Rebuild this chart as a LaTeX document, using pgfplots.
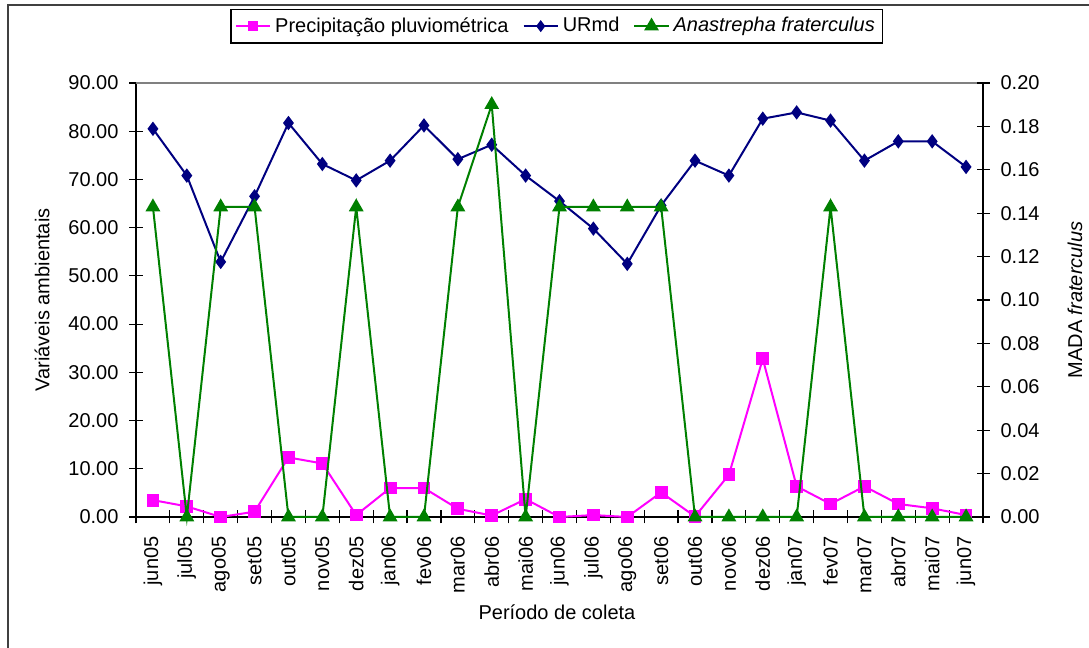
\documentclass[border=0pt]{standalone}
\usepackage{fontspec}
\setmainfont{Liberation Sans}
\usepackage{pgfplots}
\pgfplotsset{compat=1.18}
\definecolor{prec}{RGB}{255,0,255}
\definecolor{urmd}{RGB}{0,0,128}
\definecolor{anas}{RGB}{0,128,0}
\begin{document}
\fontsize{10pt}{12pt}\selectfont
\begin{tikzpicture}
\useasboundingbox (0,0) rectangle (544.5pt,324pt);
\draw[line width=1.2pt, black!75] (4pt,-2pt) -- (4pt,321.5pt) -- (548pt,321.5pt);
\pgfplotsset{
 common/.style={
  at={(68pt,65.5pt)}, anchor=south west,
  width=423.5pt, height=217pt, scale only axis,
  xmin=-0.5, xmax=24.5,
  clip=false,
  tick align=center, major tick length=6.5pt,
  tick style={black, line width=0.6pt},
  axis line style={black, line width=0.8pt, -},
  every tick label/.append style={font=\fontsize{10pt}{12pt}\selectfont},
  label style={font=\fontsize{10pt}{12pt}\selectfont},
  /pgf/number format/assume math mode=true,
  yticklabel style={/pgf/number format/.cd, fixed, fixed zerofill, precision=2},
  yticklabel shift=2pt,
 }
}
\begin{axis}[common,
  axis x line*=bottom, axis y line*=left,
  ymin=0, ymax=90, ytick={0,10,20,30,40,50,60,70,80,90},
  xtick={-0.5,0.5,1.5,2.5,3.5,4.5,5.5,6.5,7.5,8.5,9.5,10.5,11.5,12.5,13.5,14.5,15.5,16.5,17.5,18.5,19.5,20.5,21.5,22.5,23.5,24.5},
  x tick label as interval,
  xticklabels={jun05,jul05,ago05,set05,out05,nov05,dez05,jan06,fev06,mar06,abr06,mai06,jun06,jul06,ago06,set06,out06,nov06,dez06,jan07,fev07,mar07,abr07,mai07,jun07},
  xticklabel style={rotate=90, anchor=east},
  xticklabel shift=3pt,
  xlabel={Período de coleta},
  xlabel style={at={(axis description cs:0.497,-0.219)}, anchor=center},
  ylabel={Variáveis ambientais},
  ylabel style={at={(axis description cs:-0.111,0.5)}, anchor=center},
]
\draw[gray, line width=0.8pt] (rel axis cs:0,1) -- (rel axis cs:1,1);
\addplot[prec, line width=1pt, mark=square*, mark size=2.7pt] coordinates {
(0,3.5) (1,2.2) (2,0) (3,1.1) (4,12.35) (5,11.1) (6,0.4) (7,6.0) (8,6.0) (9,1.7) (10,0.3) (11,3.7) (12,0) (13,0.4) (14,0) (15,5.1) (16,0.1) (17,8.75) (18,32.8) (19,6.35) (20,2.7) (21,6.35) (22,2.7) (23,1.8) (24,0.4)};
\addplot[urmd, line width=1pt, mark=diamond*, mark size=2.8pt] coordinates {
(0,80.5) (1,70.8) (2,52.9) (3,66.5) (4,81.7) (5,73.2) (6,69.8) (7,73.9) (8,81.2) (9,74.2) (10,77.2) (11,70.8) (12,65.5) (13,59.8) (14,52.5) (15,64.6) (16,73.9) (17,70.8) (18,82.6) (19,83.9) (20,82.2) (21,73.9) (22,77.9) (23,77.9) (24,72.6)};
\end{axis}
\begin{axis}[common,
  axis y line*=right, axis x line=none,
  ymin=0, ymax=0.2, ytick={0,0.02,0.04,0.06,0.08,0.1,0.12,0.14,0.16,0.18,0.2},
  ylabel={MADA \textit{fraterculus}},
  ylabel style={at={(axis description cs:1.1086,0.5)}, anchor=center},
  legend columns=3,
  legend style={at={(0.497,1.131)}, anchor=center, draw=black, line width=0.6pt,
    font=\fontsize{10pt}{12pt}\selectfont, inner sep=2pt,
    /tikz/every even column/.append style={column sep=5pt}},
]
\addlegendimage{prec, line width=1pt, mark=square*, mark size=2pt}
\addlegendentry{Precipitação pluviométrica}
\addlegendimage{urmd, line width=1pt, mark=diamond*, mark size=2.2pt}
\addlegendentry{URmd}
\addplot[anas, line width=1pt, mark=triangle*, mark size=3.3pt] coordinates {
(0,0.142857) (1,0) (2,0.142857) (3,0.142857) (4,0) (5,0) (6,0.142857) (7,0) (8,0) (9,0.142857) (10,0.19) (11,0) (12,0.142857) (13,0.142857) (14,0.142857) (15,0.142857) (16,0) (17,0) (18,0) (19,0) (20,0.142857) (21,0) (22,0) (23,0) (24,0)};
\addlegendentry{\textit{Anastrepha fraterculus}}
\end{axis}
\end{tikzpicture}
\end{document}
